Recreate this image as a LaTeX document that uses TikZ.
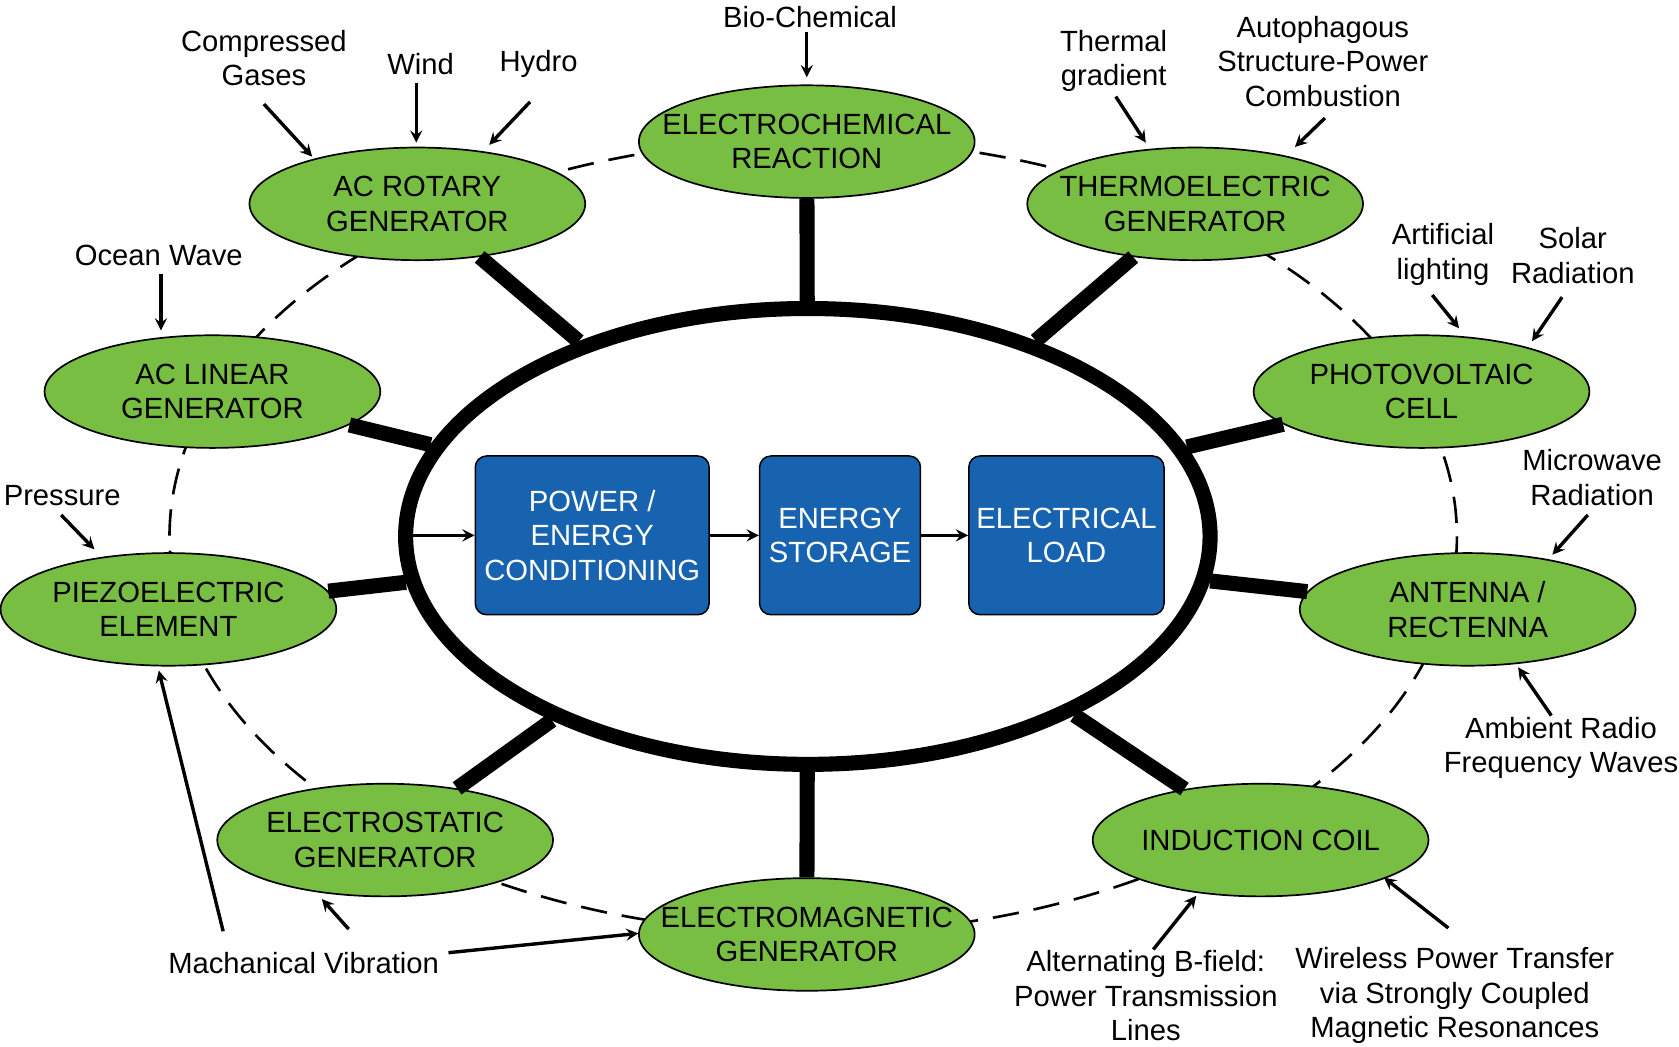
\documentclass[tikz,border=0pt]{standalone}
\usepackage{fontspec}
\setmainfont{Liberation Sans}
\usetikzlibrary{shapes.geometric}
\definecolor{leaf}{RGB}{120,190,67}
\definecolor{boxblue}{RGB}{24,99,176}
\begin{document}
\begin{tikzpicture}[>=stealth, x=0.02cm, y=-0.02cm,
    font=\fontsize{15.5}{18.3}\selectfont,
    src/.style={ellipse, draw=black, line width=0.9pt, fill=leaf,
        minimum width=6.26cm, minimum height=2.1cm, align=center,
        inner xsep=-1.5cm, inner ysep=-4pt},
    blk/.style={draw=black, line width=0.8pt, fill=boxblue, rounded corners=6pt,
        text=white, align=center, minimum height=2.96cm},
    spoke/.style={line width=8pt},
    arr/.style={->, line width=1.8pt},
    lbl/.style={align=center}]
    \useasboundingbox (0,0) rectangle (1565,975);

    % Dashed ring
    \draw[dashed, line width=1.4pt, dash pattern=on 14pt off 8pt] (758,500) ellipse (600 and 370);

    % Core
    \node[ellipse, draw, line width=8pt, minimum width=15.0cm, minimum height=8.5cm] (core) at (753,500) {};

    % Sources
    \node[src] (echem) at (752,132) {ELECTROCHEMICAL\\REACTION};
    \node[src] (acrot) at (389,190) {AC ROTARY\\GENERATOR};
    \node[src] (thermo) at (1114,190) {THERMOELECTRIC\\GENERATOR};
    \node[src] (aclin) at (198,365) {AC LINEAR\\GENERATOR};
    \node[src] (pv) at (1325,365) {PHOTOVOLTAIC\\CELL};
    \node[src] (piezo) at (157,568) {PIEZOELECTRIC\\ELEMENT};
    \node[src] (ant) at (1368,568) {ANTENNA /\\RECTENNA};
    \node[src] (estat) at (359,783) {ELECTROSTATIC\\GENERATOR};
    \node[src] (emag) at (752,871) {ELECTROMAGNETIC\\GENERATOR};
    \node[src] (coil) at (1175,783) {INDUCTION COIL};

    % Spokes
    \foreach \s in {echem, acrot, thermo, aclin, pv, piezo, ant, estat, emag, coil} {
        \draw[spoke] (\s) -- (core);
    }

    % Conditioning chain
    \node[blk, minimum width=4.36cm] (cond) at (552,499) {POWER /\\ENERGY\\CONDITIONING};
    \node[blk, minimum width=3.0cm] (store) at (783,499) {ENERGY\\STORAGE};
    \node[blk, minimum width=3.64cm] (load) at (994,499) {ELECTRICAL\\LOAD};
    \coordinate (inlet) at (376,499);
    \draw[arr] (inlet) -- (cond);
    \draw[arr] (cond) -- (store);
    \draw[arr] (store) -- (load);

    % Energy inputs
    \node[lbl] (gas) at (246,54) {Compressed\\Gases};
    \draw[arr] (246,97) -- (291,146);
    \node[lbl] (wind) at (392,60) {Wind};
    \draw[arr] (388,77) -- (388,133);
    \node[lbl] (hydro) at (502,60) {Hydro};
    \draw[arr] (494,95) -- (456,135);
    \node[lbl] (bio) at (755,16) {Bio-Chemical};
    \draw[arr] (752,30) -- (752,72);
    \node[lbl] (tgrad) at (1038,57) {Thermal\\gradient};
    \draw[arr] (1040,90) -- (1068,133);
    \node[lbl] (auto) at (1233,57) {Autophagous\\Structure-Power\\Combustion};
    \draw[arr] (1235,110) -- (1207,137);
    \node[lbl] (ocean) at (148,238) {Ocean Wave};
    \draw[arr] (150,255) -- (150,308);
    \node[lbl] (light) at (1345,237) {Artificial\\lighting};
    \draw[arr] (1335,275) -- (1360,306);
    \node[lbl] (solar) at (1466,238) {Solar\\Radiation};
    \draw[arr] (1456,277) -- (1428,318);
    \node[lbl] (press) at (58,462) {Pressure};
    \draw[arr] (57,480) -- (88,512);
    \node[lbl] (micro) at (1484,445) {Microwave\\Radiation};
    \draw[arr] (1480,480) -- (1447,517);
    \node[lbl] (rf) at (1455,697) {Ambient Radio\\Frequency Waves};
    \draw[arr] (1446,667) -- (1415,622);
    \node[lbl] (vib) at (283,898) {Machanical Vibration};
    \draw[arr] (208,868) -- (148,625);
    \draw[arr] (325,866) -- (300,838);
    \draw[arr] (418,888) -- (595,870);
    \node[lbl] (bfield) at (1068,928) {Alternating B-field:\\Power Transmission\\Lines};
    \draw[arr] (1075,885) -- (1115,835);
    \node[lbl] (wpt) at (1356,928) {Wireless Power Transfer\\via Strongly Coupled\\Magnetic Resonances};
    \draw[arr] (1350,865) -- (1290,818);
\end{tikzpicture}
\end{document}
